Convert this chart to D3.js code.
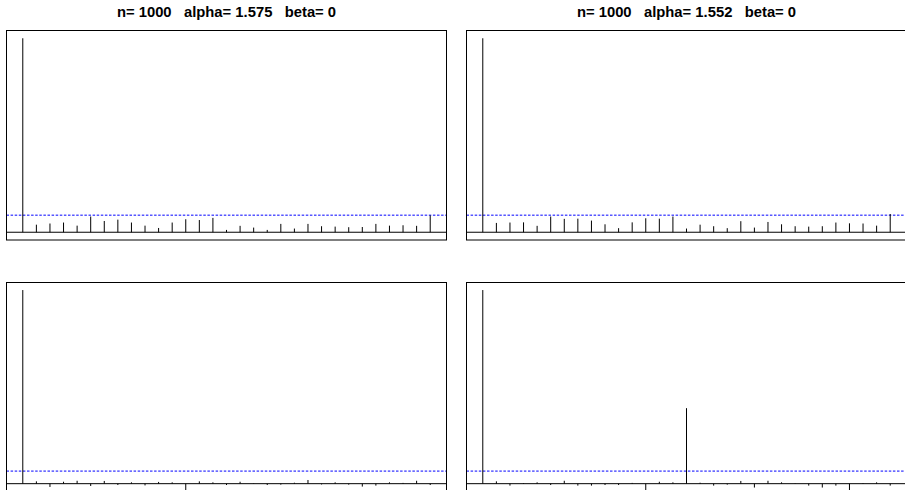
<!DOCTYPE html>
<html>
<head>
<meta charset="utf-8">
<script src="https://cdn.jsdelivr.net/npm/d3@7"></script>
<style>
  html, body { margin: 0; padding: 0; background: #fff; }
  svg { display: block; }
</style>
</head>
<body>
<svg id="chart" width="905" height="490"></svg>
<script>
// Autocorrelation estimates for lags 0..30, one series per panel
const lags = d3.range(0, 31);

const acfTopLeft = [1, 0.039, 0.045, 0.050, 0.034, 0.081, 0.058, 0.065, 0.050, 0.034,
  0.022, 0.050, 0.067, 0.063, 0.074, 0.012, 0.033, 0.024, 0.012, 0.043,
  0.019, 0.043, 0.031, 0.029, 0.026, 0.027, 0.043, 0.034, 0.036, 0.033, 0.087];

const acfTopRight = [1, 0.048, 0.050, 0.051, 0.033, 0.081, 0.069, 0.070, 0.060, 0.041,
  0.021, 0.051, 0.072, 0.070, 0.081, 0.019, 0.039, 0.031, 0.021, 0.057,
  0.024, 0.053, 0.041, 0.031, 0.029, 0.031, 0.050, 0.046, 0.045, 0.034, 0.094];

const acfBottomLeft = [1, 0.012, -0.017, 0.010, 0.015, -0.012, 0.014, -0.007, 0.007, -0.009,
  0.009, 0.007, -0.045, 0.012, 0.007, -0.007, 0.010, 0.002, -0.007, -0.005,
  0.005, 0.019, -0.004, 0.007, -0.005, -0.015, -0.010, 0.007, 0.004, 0.015, -0.007];

const acfBottomRight = [1, 0.012, -0.010, 0.003, 0.007, -0.007, 0.015, -0.010, -0.010, -0.007,
  -0.007, 0.004, -0.040, 0.010, 0.007, 0.390, 0.005, -0.010, -0.005, 0.014,
  -0.020, 0.015, 0.007, 0.002, -0.010, -0.020, -0.010, -0.035, 0.003, 0.007, -0.010];

// Confidence bound drawn as the dashed line in each panel
const bounds = [0.088, 0.088, 0.065, 0.065];

// Panel titles (only the top row carries one)
const titles = [
  "n= 1000   alpha= 1.575   beta= 0",
  "n= 1000   alpha= 1.552   beta= 0",
  "",
  ""
];

const seriesList = [acfTopLeft, acfTopRight, acfBottomLeft, acfBottomRight];

// Layout of the 2x2 grid of plot boxes
const boxW = 440;
const boxLefts = [6.5, 466.5];
const rows = [
  { top: 30.5, bottom: 240, yDomain: [-0.04, 1.04] },
  { top: 282.5, bottom: 492, yDomain: [-0.043, 1.039] }
];

const svg = d3.select("#chart");

seriesList.forEach((vals, i) => {
  const col = i % 2;
  const row = rows[Math.floor(i / 2)];
  const left = boxLefts[col];

  const x = d3.scaleLinear().domain([-1.2, 31.2]).range([left, left + boxW]);
  const y = d3.scaleLinear().domain(row.yDomain).range([row.bottom, row.top]);

  const g = svg.append("g");

  // zero reference line
  g.append("line")
    .attr("x1", left).attr("x2", left + boxW)
    .attr("y1", y(0)).attr("y2", y(0))
    .attr("stroke", "#000").attr("stroke-width", 1);

  // confidence bound
  g.append("line")
    .attr("x1", left).attr("x2", left + boxW)
    .attr("y1", y(bounds[i])).attr("y2", y(bounds[i]))
    .attr("stroke", "#0000ff").attr("stroke-width", 1)
    .attr("stroke-dasharray", "2.5,1.6");

  // vertical spikes for each lag
  g.selectAll("line.spike")
    .data(lags)
    .join("line")
    .attr("class", "spike")
    .attr("x1", d => x(d)).attr("x2", d => x(d))
    .attr("y1", y(0)).attr("y2", d => y(vals[d]))
    .attr("stroke", "#000").attr("stroke-width", 1);

  // plot box
  g.append("rect")
    .attr("x", left).attr("y", row.top)
    .attr("width", boxW).attr("height", row.bottom - row.top)
    .attr("fill", "none").attr("stroke", "#000").attr("stroke-width", 1);

  if (titles[i]) {
    svg.append("text")
      .attr("x", left + boxW / 2)
      .attr("y", 16.5)
      .attr("text-anchor", "middle")
      .style("white-space", "pre")
      .attr("font-family", "'Liberation Sans', Arial, Helvetica, sans-serif")
      .attr("font-weight", "bold")
      .attr("font-size", "14.8px")
      .attr("fill", "#000")
      .text(titles[i]);
  }
});
</script>
</body>
</html>
